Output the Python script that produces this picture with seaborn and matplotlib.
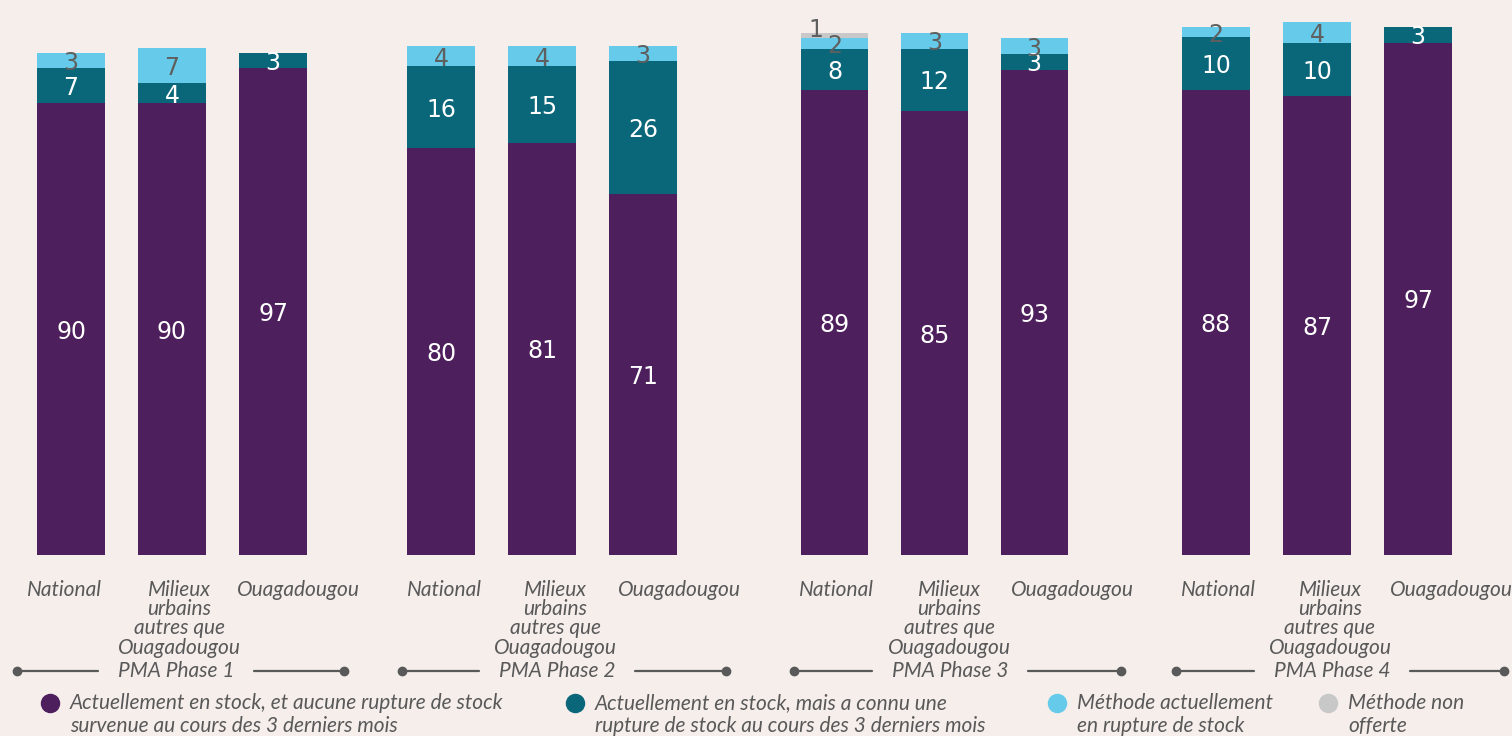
import pandas as pd
import seaborn as sns
import matplotlib.pyplot as plt
from matplotlib.lines import Line2D

phases = ["PMA Phase 1", "PMA Phase 2", "PMA Phase 3", "PMA Phase 4"]
zones = ["National", "Milieux\nurbains\nautres que\nOuagadougou", "Ouagadougou"]
layers = [
    "Actuellement en stock, et aucune rupture de stock\nsurvenue au cours des 3 derniers mois",
    "Actuellement en stock, mais a connu une\nrupture de stock au cours des 3 derniers mois",
    "Méthode actuellement\nen rupture de stock",
    "Méthode non\nofferte",
]

# values per phase, in zone order
en_stock = [[90, 90, 97], [80, 81, 71], [89, 85, 93], [88, 87, 97]]
rupture_passee = [[7, 4, 3], [16, 15, 26], [8, 12, 3], [10, 10, 3]]
rupture_actuelle = [[3, 7, 0], [4, 4, 3], [2, 3, 3], [2, 4, 0]]
non_offerte = [[0, 0, 0], [0, 0, 0], [1, 0, 0], [0, 0, 0]]

colors = ["#4d1f5c", "#0a677a", "#66cbea", "#c8c8c8"]
label_colors = ["white", "white", "#5f5f5f", "#5f5f5f"]
bg = "#f5eeeb"
grey = "#595959"

rows = []
for p, phase in enumerate(phases):
    for z, zone in enumerate(zones):
        vals = [en_stock[p][z], rupture_passee[p][z], rupture_actuelle[p][z], non_offerte[p][z]]
        cum = 0
        for l, v in enumerate(vals):
            rows.append(dict(phase=phase, zone=zone, layer=l, value=v, bottom=cum, top=cum + v))
            cum += v
df = pd.DataFrame(rows)

sns.set_theme(style="white", rc={"figure.facecolor": bg, "axes.facecolor": bg})
plt.rcParams["font.family"] = ["Lato", "DejaVu Sans"]

W, H = 1512, 736
fig = plt.figure(figsize=(W / 100, H / 100), dpi=100)

# panel layout in pixels
ax_left = [20.5, 390.5, 785, 1165.5]
ax_width = [303, 303, 299, 303]
ax_bottom, ax_top = 555, 10
ymax = [108.6, 107.1, 104.4, 103.2]
# tick labels sit a bit right of the bars in the original
tick_dx = [[-7, 7, 25], [3, 13, 36], [2, 15, 38], [2, 13, 33]]

for p, phase in enumerate(phases):
    ax = fig.add_axes([ax_left[p] / W, (H - ax_bottom) / H, ax_width[p] / W, (ax_bottom - ax_top) / H])
    sub = df[df.phase == phase]
    for l in reversed(range(4)):
        s = sub[sub.layer == l]
        sns.barplot(data=s, x="zone", y="top", order=zones, color=colors[l], saturation=1,
                    width=0.67, errorbar=None, linewidth=0, ax=ax)
    for _, r in sub.iterrows():
        if r.value == 0:
            continue
        i = zones.index(r.zone)
        x, y = i, (r.bottom + r.top) / 2
        if r.layer == 3:
            x, y = i - 0.19, r.top + 1.0
        ax.text(x, y, str(r.value), ha="center", va="center_baseline", color=label_colors[r.layer],
                fontsize=17, family=["DejaVu Sans"])
    ax.set_ylim(0, ymax[p])
    ax.set_xlim(-0.5, 2.5)
    unit = ax_width[p] / 3
    ax.set_xticks([i + tick_dx[p][i] / unit for i in range(3)])
    ax.set_xticklabels(zones, fontsize=15, style="italic", color=grey, linespacing=0.95)
    ax.tick_params(axis="x", length=0, pad=18)
    ax.set_yticks([])
    ax.set_xlabel("")
    ax.set_ylabel("")
    sns.despine(ax=ax, left=True, bottom=True)

# group brackets under each phase
line_px = [(17, 344), (402, 726), (794, 1121), (1176, 1504)]
text_px = [176, 557, 950, 1332]
y_grp = (H - 671) / H
fig.canvas.draw()
renderer = fig.canvas.get_renderer()
for p, phase in enumerate(phases):
    t = fig.text(text_px[p] / W, y_grp, phase, ha="center", va="center", fontsize=15,
                 style="italic", color=grey)
    bb = t.get_window_extent(renderer)
    gap = 20
    x0, x1 = line_px[p]
    fig.add_artist(Line2D([x0 / W, (bb.x0 - gap) / W], [y_grp, y_grp], color=grey, lw=1.6,
                          marker="o", markersize=6, markevery=[0]))
    fig.add_artist(Line2D([(bb.x1 + gap) / W, x1 / W], [y_grp, y_grp], color=grey, lw=1.6,
                          marker="o", markersize=6, markevery=[1]))

# legend
leg_x = [50, 575, 1057, 1328]
leg_y = (H - 703) / H
for l, lab in enumerate(layers):
    fig.add_artist(Line2D([leg_x[l] / W], [leg_y], marker="o", markersize=13, color=colors[l], lw=0))
    fig.text((leg_x[l] + 20) / W, (H - 693) / H, lab, ha="left", va="top", fontsize=15,
             style="italic", color=grey, linespacing=1.2)

fig.savefig("out.png", dpi=100, facecolor=bg)
